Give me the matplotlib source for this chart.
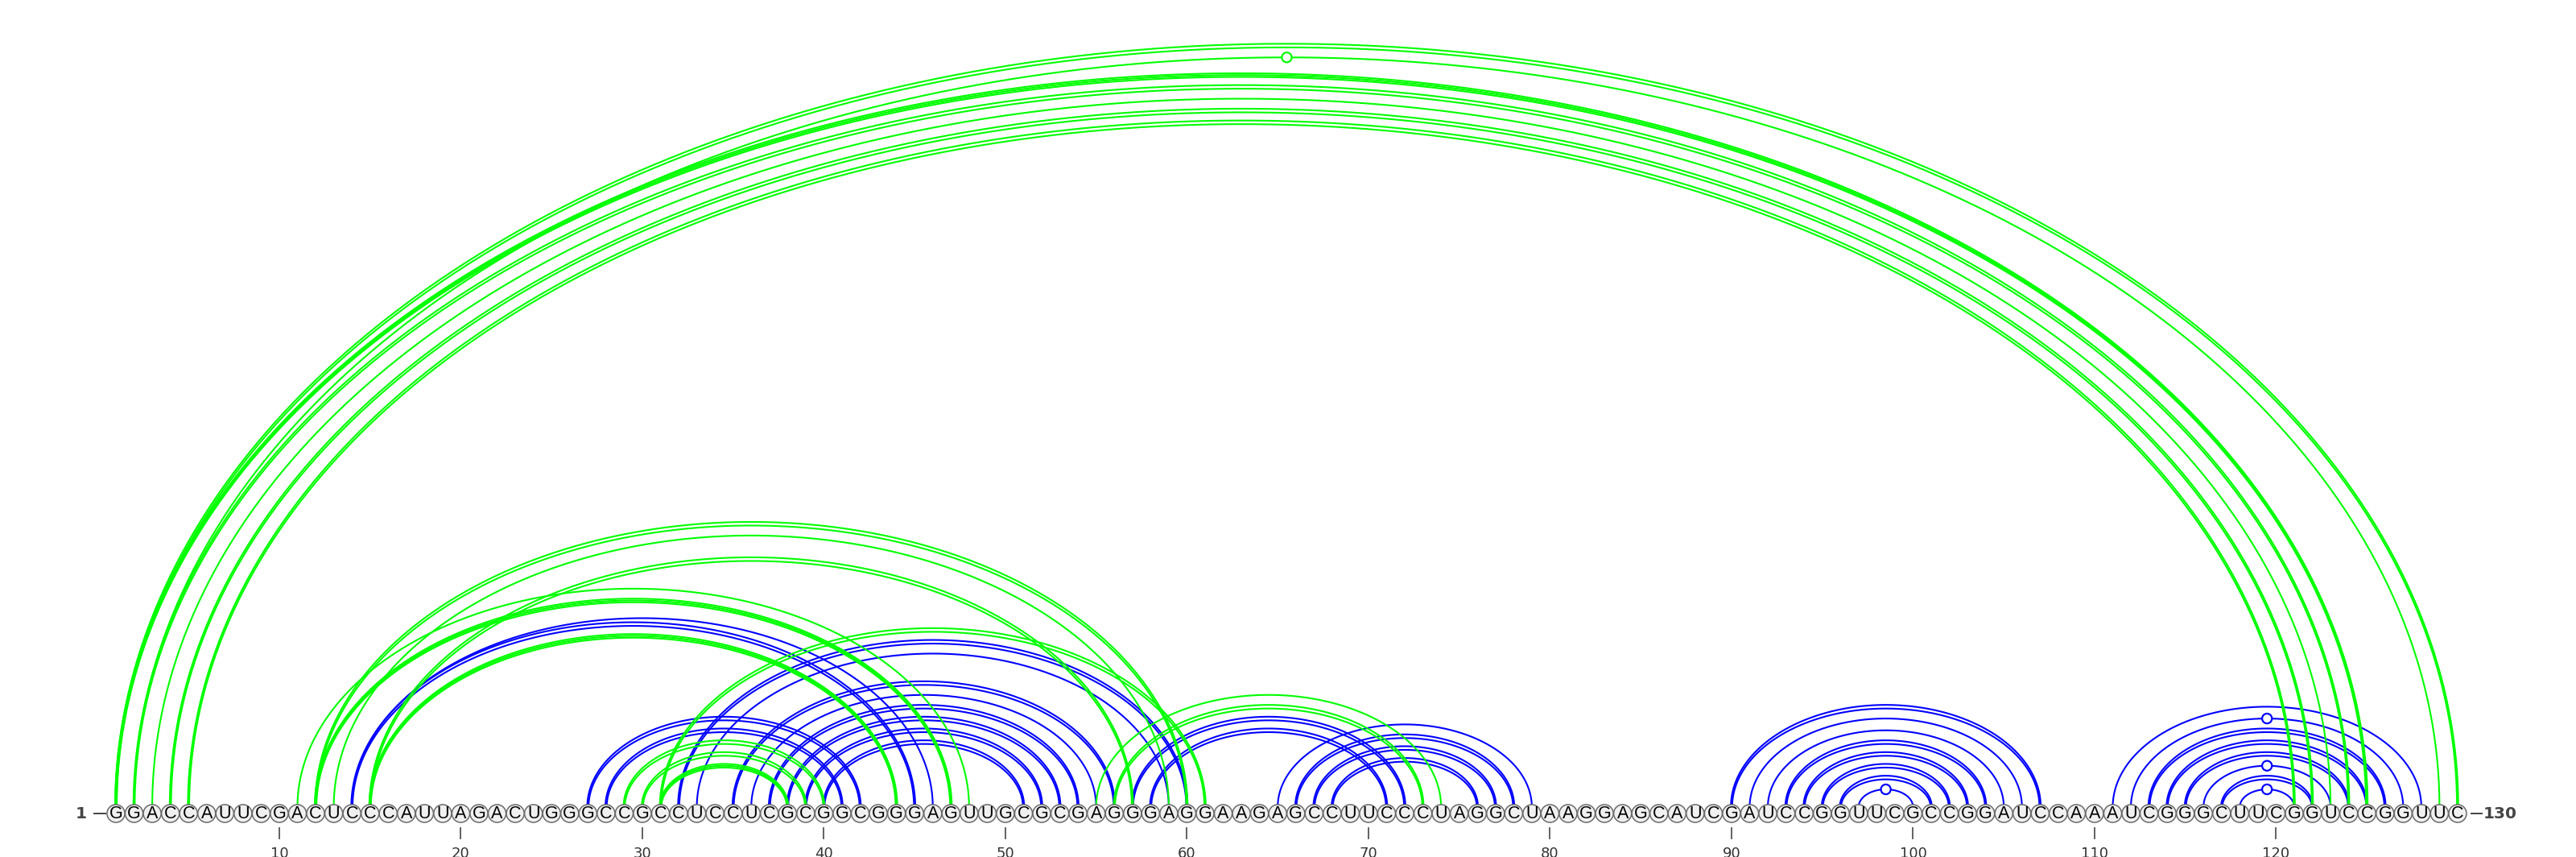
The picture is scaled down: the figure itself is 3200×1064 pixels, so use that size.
import numpy as np
import matplotlib
matplotlib.use("Agg")
import matplotlib.pyplot as plt
from matplotlib.patches import Circle

# ---------------- data ----------------
sequence = ("GGACCAUUCGACUCCCAUUAGACUGGGCCGCCUCCUCGCGGCGGGAGUUGCGCGAGGGAGGAAGAGCC"
            "UUCCCUAGGCUAAGGAGCAUCGAUCCGGUUCGCCGGAUCCAAAUCGGGCUUCGGUCCGGUUC")

# green structure: (i, j, number of overlaid arcs)
green_i = [1, 2, 1, 2, 3, 4, 5, 11, 12, 15, 12, 13, 15, 29, 30, 31, 31, 55, 56]
green_j = [130, 129, 125, 124, 123, 122, 121, 48, 47, 44, 60, 59, 57, 40, 39, 38, 61, 74, 73]
green_n = [2, 1, 3, 2, 1, 2, 2, 1, 3, 3, 2, 1, 2, 2, 2, 3, 2, 1, 2]

# blue structure
blue_i = [14, 14, 27, 28, 32, 33, 35, 36, 37, 38, 39, 40, 57, 58, 65, 66, 67, 68,
          90, 91, 92, 93, 94, 95, 96, 97, 111, 112, 113, 114, 115, 116, 117, 118]
blue_j = [46, 45, 42, 41, 60, 59, 56, 55, 54, 53, 52, 51, 72, 71, 79, 78, 77, 76,
          107, 106, 105, 104, 103, 102, 101, 100, 128, 127, 126, 125, 124, 123, 122, 121]
blue_n = [1, 2, 2, 2, 2, 1, 2, 1, 2, 2, 2, 2, 2, 2, 1, 2, 2, 2,
          2, 1, 1, 2, 2, 2, 2, 1, 1, 1, 2, 2, 2, 1, 2, 1]

tick_positions = [10, 20, 30, 40, 50, 60, 70, 80, 90, 100, 110, 120]

GREEN = "#00ff00"
BLUE = "#0000ff"

# ---------------- figure ----------------
W, H = 3200, 1064
dpi = 100
fig = plt.figure(figsize=(W / dpi, H / dpi), dpi=dpi)
ax = fig.add_axes([0, 0, 1, 1])
unit = 22.55            # pixels per nucleotide
x0px, ypx = 144.0, 1010.0
ax.set_xlim(1 - x0px / unit, 1 + (W - x0px) / unit)
ax.set_ylim(-(H - ypx) / unit, ypx / unit)
ax.axis("off")

n = len(sequence)
y0 = 8.0 / unit          # arcs spring from just above the base line
ratio = 0.65             # height / half-width of arcs
t = np.linspace(0, np.pi, 400)


def draw_pairs(ii, jj, nn, color, z):
    for i, j, k in zip(ii, jj, nn):
        c = (i + j) / 2.0
        a = (j - i) / 2.0
        b = ratio * a
        step_b = 0.2 if k == 2 else 0.1
        step_a = 0.07 if k == 2 else 0.045
        for m in range(k):
            o = m - (k - 1) / 2.0
            aa = a + o * step_a
            bb = b + o * step_b
            ax.plot(c + aa * np.cos(t), y0 + bb * np.sin(t), color=color,
                    lw=1.5, solid_capstyle="butt", zorder=z)
        pair = sequence[i - 1] + sequence[j - 1]
        if pair in ("GU", "UG"):
            ax.add_patch(Circle((c, y0 + b), 0.27, facecolor="white",
                                edgecolor=color, lw=1.6, zorder=z + 0.5))


draw_pairs(blue_i, blue_j, blue_n, BLUE, 2)
draw_pairs(green_i, green_j, green_n, GREEN, 3)

# nucleotides
for p, ch in enumerate(sequence, start=1):
    ax.add_patch(Circle((p, 0), 0.49, facecolor="#f0f0f0", edgecolor="#6a6a6a",
                        lw=1.1, zorder=10))
    ax.text(p, -0.03, ch, ha="center", va="center", fontsize=15.5,
            family="Liberation Sans", color="black", zorder=11)

# ticks and numbering
for p in tick_positions:
    ax.plot([p, p], [-0.82, -1.37], color="#555555", lw=1.3, zorder=5)
    ax.text(p, -1.8, str(p), ha="center", va="top", fontsize=13,
            family="DejaVu Sans", color="#333333")

ax.text(1 - (144 - 101) / unit, 0, "1", ha="center", va="center", fontsize=14.5,
        family="DejaVu Sans", color="#444444", fontweight="bold")
ax.plot([1 - (144 - 117) / unit, 1 - (144 - 131) / unit], [0, 0], color="#444444", lw=1.4)
ax.plot([n + 0.75, n + 1.33], [0, 0], color="#444444", lw=1.4)
ax.text(n + 1.42, 0, str(n), ha="left", va="center", fontsize=14.5,
        family="DejaVu Sans", color="#444444", fontweight="bold")

fig.savefig("out.png", dpi=dpi, facecolor="white")
